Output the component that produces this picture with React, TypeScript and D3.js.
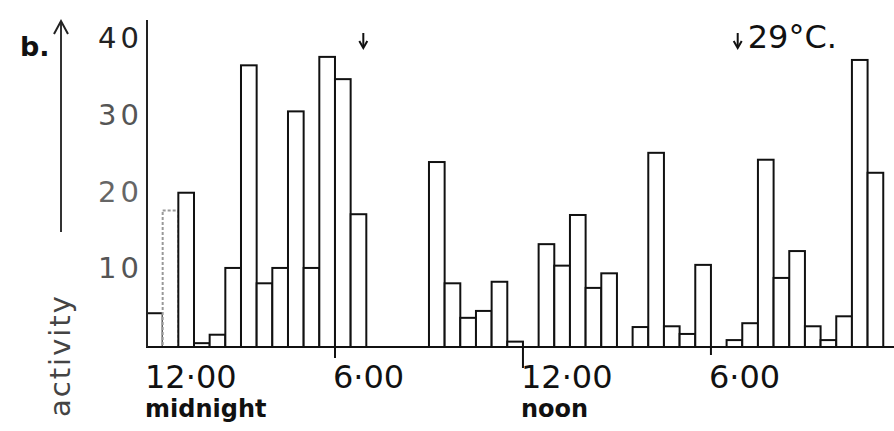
import React, { useEffect, useRef } from "react";
import * as d3 from "d3";

// activity per half-hour bin, starting at midnight
const activity = [
  4.4, 17.8, 20.1, 0.5, 1.6, 10.3, 36.7, 8.3, 10.3, 30.7, 10.3, 37.8, 34.9, 17.3,
  0, 0, 0, 0, 24.1, 8.3, 3.8, 4.7, 8.5, 0.7, 0, 13.4, 10.6, 17.2, 7.7, 9.6, 0,
  2.6, 25.3, 2.7, 1.7, 10.7, 0, 0.9, 3.1, 24.4, 9.0, 12.5, 2.7, 0.9, 4.0, 37.4,
  22.7,
];
const binHours = 0.5;

const yTicks = [10, 20, 30, 40];
const yTickColors = ["#555", "#666", "#555", "#222"];

const timeTicks = [0, 6, 12, 18];
const timeLabels = ["12·00", "6·00", "12·00", "6·00"];
const timeSubLabels = ["midnight", "", "noon", ""];

// temperature-change markers (hours)
const markers = [
  { hour: 7, label: "" },
  { hour: 18.95, label: "29°C." },
];

const W = 894;
const H = 431;

const App: React.FC = () => {
  const svgRef = useRef<SVGSVGElement>(null);

  useEffect(() => {
    if (!svgRef.current) return;
    const svg = d3.select(svgRef.current);
    svg.selectAll("*").remove();

    const x = d3.scaleLinear().domain([0, 24]).range([147, 147 + 24 * 31.33]);
    const y = d3.scaleLinear().domain([0, 40]).range([347, 40]);
    const font = "DejaVu Sans, sans-serif";

    // bars
    svg
      .append("g")
      .selectAll("rect")
      .data(activity.map((v, i) => ({ v, i })).filter((d) => d.v > 0))
      .enter()
      .append("rect")
      .attr("x", (d) => x(d.i * binHours))
      .attr("width", (d) => x((d.i + 1) * binHours) - x(d.i * binHours))
      .attr("y", (d) => y(d.v))
      .attr("height", (d) => y(0) - y(d.v))
      .attr("fill", "white")
      .attr("stroke", (d) => (d.i === 1 ? "#999" : "#111"))
      .attr("stroke-dasharray", (d) => (d.i === 1 ? "3,2" : null))
      .attr("stroke-width", 2);

    // baseline + y axis
    svg
      .append("line")
      .attr("x1", x(0))
      .attr("x2", W)
      .attr("y1", y(0))
      .attr("y2", y(0))
      .attr("stroke", "#111")
      .attr("stroke-width", 2);
    svg
      .append("line")
      .attr("x1", x(0))
      .attr("x2", x(0))
      .attr("y1", 20)
      .attr("y2", y(0))
      .attr("stroke", "#222")
      .attr("stroke-width", 2);

    // y tick labels
    svg
      .append("g")
      .selectAll("text")
      .data(yTicks)
      .enter()
      .append("text")
      .attr("x", 143)
      .attr("y", (d) => y(d) - 2)
      .attr("text-anchor", "end")
      .attr("dominant-baseline", "central")
      .attr("font-family", font)
      .attr("font-size", 29)
      .attr("letter-spacing", 4)
      .attr("fill", (d, i) => yTickColors[i])
      .text((d) => d);

    // time ticks
    const tickLen = [0, 11, 21, 8];
    svg
      .append("g")
      .selectAll("line")
      .data(timeTicks)
      .enter()
      .append("line")
      .attr("x1", (d) => x(d))
      .attr("x2", (d) => x(d))
      .attr("y1", y(0))
      .attr("y2", (d, i) => y(0) + tickLen[i])
      .attr("stroke", "#111")
      .attr("stroke-width", 2);

    svg
      .append("g")
      .selectAll("text")
      .data(timeTicks)
      .enter()
      .append("text")
      .attr("x", (d) => x(d) - 2)
      .attr("y", 388)
      .attr("font-family", font)
      .attr("font-size", 32)
      .attr("fill", "#111")
      .text((d, i) => timeLabels[i]);

    svg
      .append("g")
      .selectAll("text")
      .data(timeTicks)
      .enter()
      .append("text")
      .attr("x", (d) => x(d) - 2)
      .attr("y", 417)
      .attr("font-family", font)
      .attr("font-weight", "bold")
      .attr("font-size", 24)
      .attr("fill", "#111")
      .text((d, i) => timeSubLabels[i]);

    // markers
    markers.forEach((m) => {
      const mx = x(m.hour) - 3;
      svg
        .append("line")
        .attr("x1", mx)
        .attr("x2", mx)
        .attr("y1", 33)
        .attr("y2", 46)
        .attr("stroke", "#111")
        .attr("stroke-width", 2);
      svg
        .append("path")
        .attr("d", `M${mx - 4},${41} L${mx},${48} L${mx + 4},${41}`)
        .attr("fill", "none")
        .attr("stroke", "#111")
        .attr("stroke-width", 2);
      if (m.label) {
        svg
          .append("text")
          .attr("x", mx + 10)
          .attr("y", 48)
          .attr("font-family", font)
          .attr("font-size", 32)
          .attr("fill", "#111")
          .text(m.label);
      }
    });

    // panel letter
    svg
      .append("text")
      .attr("x", 20)
      .attr("y", 56)
      .attr("font-family", font)
      .attr("font-weight", "bold")
      .attr("font-size", 27)
      .attr("fill", "#111")
      .text("b.");

    // y arrow
    svg
      .append("line")
      .attr("x1", 61)
      .attr("x2", 61)
      .attr("y1", 232)
      .attr("y2", 22)
      .attr("stroke", "#333")
      .attr("stroke-width", 2);
    svg
      .append("path")
      .attr("d", "M54,34 L61,21 L68,34")
      .attr("fill", "none")
      .attr("stroke", "#222")
      .attr("stroke-width", 2);

    // y label
    svg
      .append("text")
      .attr("transform", "translate(70,417) rotate(-90)")
      .attr("font-family", font)
      .attr("font-size", 29)
      .attr("letter-spacing", 2)
      .attr("fill", "#444")
      .text("activity");
  }, []);

  return (
    <svg
      ref={svgRef}
      width={W}
      height={H}
      style={{ position: "absolute", left: 0, top: 0, background: "white" }}
    ></svg>
  );
};

export default App;
